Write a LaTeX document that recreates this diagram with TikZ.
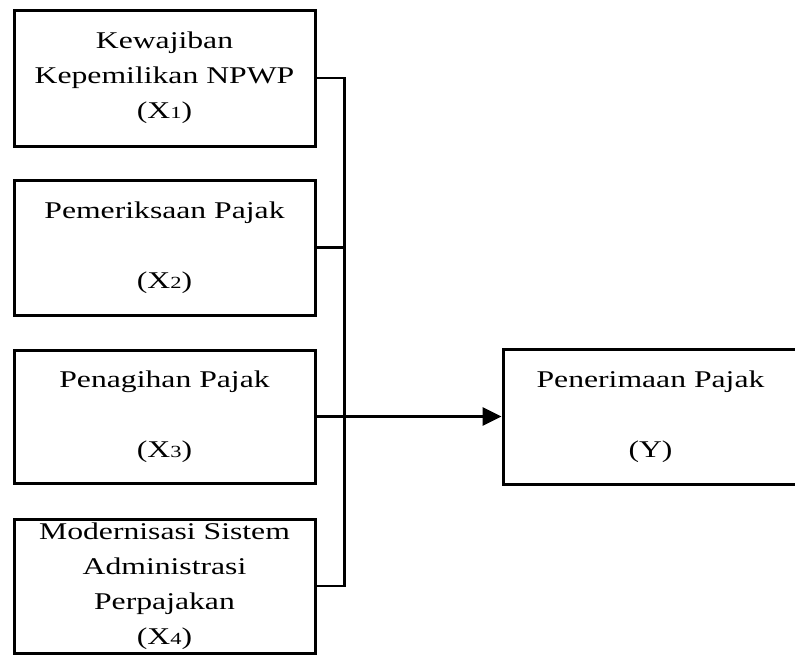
\documentclass[tikz,border=0pt]{standalone}
\usepackage{fontspec}
\setmainfont{Liberation Serif}
\usetikzlibrary{arrows.meta}
\usetikzlibrary{positioning}
\newcommand{\smalldigit}[1]{{\fontsize{17}{17}\selectfont #1}}
\newcommand{\wide}[1]{\scalebox{1.32}[1]{#1}}

\begin{document}
\begin{tikzpicture}[x=1pt,y=-1pt,
	varbox/.style={draw,line width=3pt,minimum width=301pt,inner sep=0pt,align=center,
		font=\fontsize{24}{35}\selectfont,execute at begin node={\rule{0pt}{24pt}}},
	wire/.style={line width=2.8pt}]
	\useasboundingbox (0,0) rectangle (795,657);
	
	\node[varbox,minimum height=136pt] (x1) at (164.5,78) {\wide{Kewajiban}\\\wide{Kepemilikan NPWP}\\\wide{(X\smalldigit{1})}};
	\node[varbox,minimum height=135pt] (x2) at (164.5,247.5) {\wide{Pemeriksaan Pajak}\\ ~ \\\wide{(X\smalldigit{2})}};
	\node[varbox,minimum height=133pt] (x3) at (164.5,416.5) {\wide{Penagihan Pajak}\\ ~ \\\wide{(X\smalldigit{3})}};
	\node[varbox,minimum height=134pt] (x4) at (164.5,586) {\wide{Modernisasi Sistem}\\\wide{Administrasi}\\\wide{Perpajakan}\\\wide{(X\smalldigit{4})}};
	\node[varbox,minimum width=295pt,minimum height=135pt] (y) at (650.5,416.5) {\wide{Penerimaan Pajak}\\ ~ \\\wide{(Y)}};
	
	\draw[wire] (x1.east) -- ++(28,0) coordinate (b1) -- (b1 |- x4.east) -- (x4.east);
	\draw[wire] (x2.east) -- (b1 |- x2.east);
	\draw[wire,-{Triangle[length=19pt,width=18pt]}] (x3.east) -- (y.west);
\end{tikzpicture}
\end{document}
